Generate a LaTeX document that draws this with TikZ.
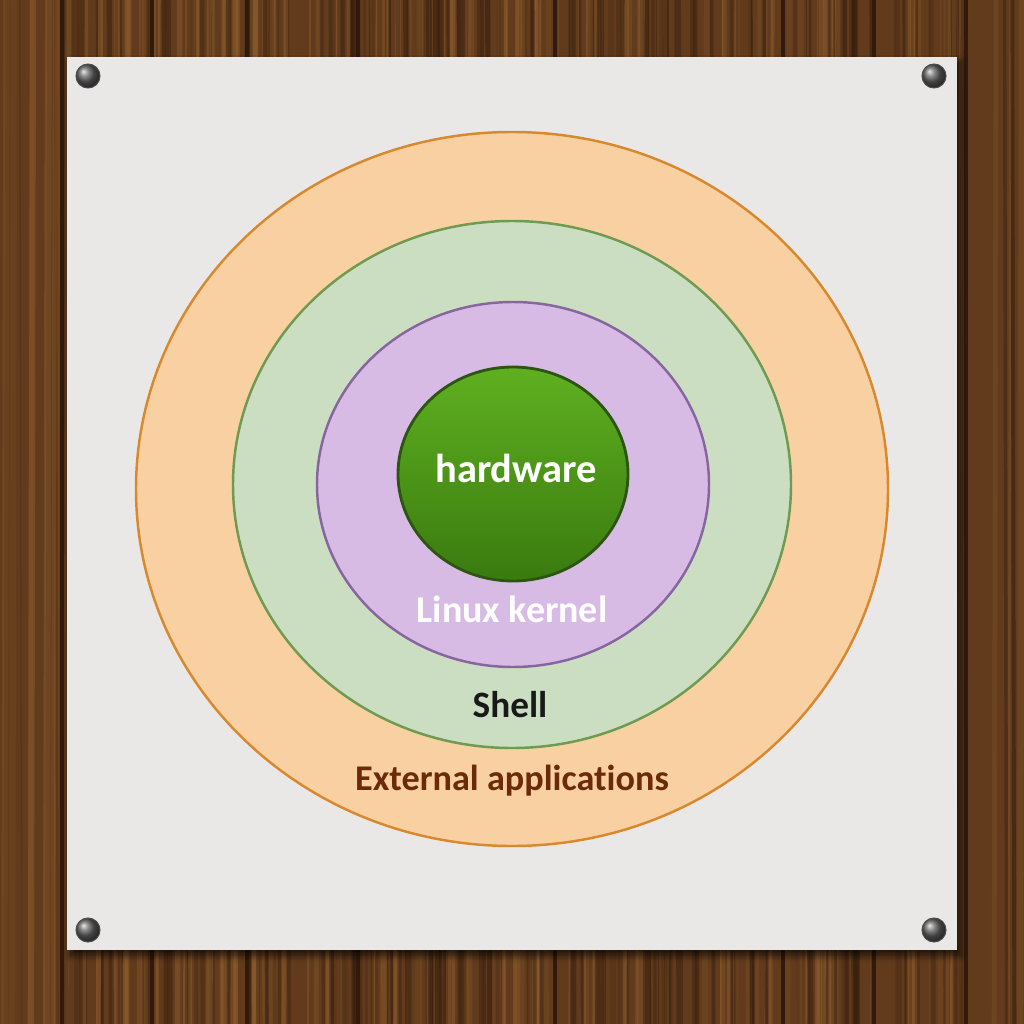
\documentclass[tikz,border=0pt]{standalone}
\usepackage{fontspec}
\setmainfont{Carlito}[Ligatures={NoCommon}]
\usetikzlibrary{shadows.blur}
\definecolor{wood}{HTML}{613B1C}
\definecolor{wooddark}{HTML}{361D0D}
\definecolor{woodlight}{HTML}{8F5E2F}
\definecolor{paper}{HTML}{EAE7E7}
\definecolor{orfill}{HTML}{F8D0A2}
\definecolor{orline}{HTML}{D8892E}
\definecolor{grfill}{HTML}{CBDEC1}
\definecolor{grline}{HTML}{6E9A52}
\definecolor{pufill}{HTML}{D8BBE5}
\definecolor{puline}{HTML}{8765A0}
\definecolor{hwtop}{HTML}{5FB020}
\definecolor{hwbot}{HTML}{3A7A10}
\definecolor{hwline}{HTML}{2C5512}
\definecolor{exttext}{HTML}{6B2A0A}
\tikzset{
  lbl/.style={font=\bfseries, anchor=base, inner sep=0pt},
  screw/.style={ball color=gray!75!black, draw=black!70, line width=0.3pt},
  seam/.style={draw=wooddark!90!black, line width=0.9pt},
}
\begin{document}
\begin{tikzpicture}[x=0.1mm,y=-0.1mm]
\useasboundingbox (0,0) rectangle (1024,1024);
% wood background
\fill[wood] (0,0) rectangle (1024,1024);
\pgfmathsetseed{7}
\foreach \i in {1,...,260} {
  \pgfmathsetmacro{\xx}{rnd*1024}
  \pgfmathsetmacro{\ww}{0.3+rnd*1.6}
  \pgfmathsetmacro{\op}{0.15+rnd*0.45}
  \pgfmathsetmacro{\cc}{rnd}
  \ifdim\cc pt<0.5pt
    \draw[wooddark, line width=\ww pt, opacity=\op] (\xx,0) -- (\xx+2,1024);
  \else
    \draw[woodlight, line width=\ww pt, opacity=\op] (\xx,0) -- (\xx-2,1024);
  \fi
}
\foreach \x in {62,152,247,358,555,783,874,966} {\draw[seam] (\x,0) -- (\x,1024);}
% paper
\fill[paper, blur shadow={shadow blur steps=8, shadow xshift=1pt, shadow yshift=-1.5pt, shadow opacity=70}] (67,57) rectangle (957,950);
% screws
\foreach \n/\x/\y in {a/88/76,b/934/76,c/88/930,d/934/930} {
  \shade[screw] (\x,\y) circle (12);
  \coordinate (screw\n) at (\x,\y);
}
% rings
\filldraw[fill=orfill, draw=orline, line width=0.7pt] (512,489) ellipse [x radius=376, y radius=357];
\filldraw[fill=grfill, draw=grline, line width=0.7pt] (512,484.5) ellipse [x radius=279, y radius=263.5];
\filldraw[fill=pufill, draw=puline, line width=0.7pt] (513,484.5) ellipse [x radius=196, y radius=182.5];
\shade[top color=hwtop, bottom color=hwbot, draw=hwline, line width=0.8pt] (513,474) ellipse [x radius=115, y radius=107];
% labels
\node[lbl, text=white, font=\fontsize{11.5pt}{13pt}\selectfont\bfseries] (hw) at (516,482) {hardware};
\node[lbl, text=white, font=\fontsize{10.8pt}{12pt}\selectfont\bfseries] (kernel) at (512,622) {Linux kernel};
\node[lbl, text=black!90, font=\fontsize{10.6pt}{12pt}\selectfont\bfseries] (shell) at (510,717) {Shell};
\node[lbl, text=exttext, font=\fontsize{10.3pt}{12pt}\selectfont\bfseries] (ext) at (512,790) {External applications};
\end{tikzpicture}
\end{document}
